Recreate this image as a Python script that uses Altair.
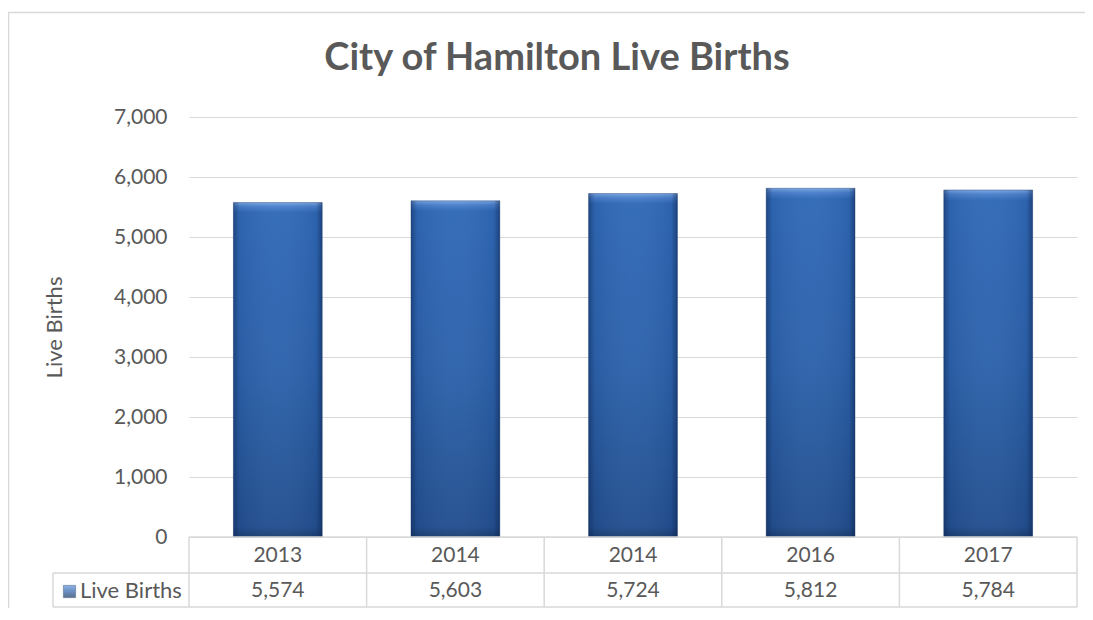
import altair as alt
import pandas as pd

# ---- data ----
years = ["2013", "2014", "2014", "2016", "2017"]
births = [5574, 5603, 5724, 5812, 5784]
title_text = "City of Hamilton Live Births"
series_name = "Live Births"
y_ticks = [0, 1000, 2000, 3000, 4000, 5000, 6000, 7000]

# ---- styling ----
W, H = 888, 420
FONT = "Lato"
GRAY = "#595959"
LINE = "#d9d9d9"
ROW1, ROW2, ROW3 = 420, 456, 490
LEG_LEFT = -136
HALF_BAR = 0.25

df = pd.DataFrame({"i": list(range(len(years))), "year": years, "births": births})
one = pd.DataFrame({"label": [series_name]})
tdf = pd.DataFrame({"t": [title_text]})

xscale = alt.Scale(domain=[-0.5, len(years) - 0.5], nice=False, zero=False)
yenc = alt.Y(
    "births:Q",
    scale=alt.Scale(domain=[0, 7000], nice=False),
    axis=alt.Axis(
        values=y_ticks, format=",.0f", title=series_name, grid=True, gridColor=LINE,
        gridWidth=1.2, domain=False, ticks=False, labelFont=FONT, labelFontSize=21,
        labelColor=GRAY, labelPadding=22, titleFont=FONT, titleFontSize=22,
        titleFontWeight="normal", titleColor=GRAY, titlePadding=47,
    ),
)

def stop(o, c):
    return alt.GradientStop(offset=o, color=c)

bar_v = alt.Gradient(
    gradient="linear", x1=0, y1=0, x2=0, y2=1,
    stops=[stop(0, "#7aa6e2"), stop(0.012, "#4a80cc"), stop(0.03, "#3069b6"),
           stop(0.5, "#2c62ab"), stop(0.97, "#234f8f"), stop(1, "#1b3f73")],
)
bar_h = alt.Gradient(
    gradient="linear", x1=0, y1=0, x2=1, y2=0,
    stops=[stop(0, "rgba(10,30,70,0.45)"), stop(0.07, "rgba(10,30,70,0.08)"),
           stop(0.5, "rgba(255,255,255,0.03)"), stop(0.93, "rgba(10,30,70,0.08)"),
           stop(1, "rgba(10,30,70,0.5)")],
)
icon_grad = alt.Gradient(
    gradient="linear", x1=0, y1=0, x2=0, y2=1,
    stops=[stop(0, "#5d93dc"), stop(0.45, "#2f64ae"), stop(1, "#17335e")],
)

base = alt.Chart(df).transform_calculate(
    lo=f"datum.i - {HALF_BAR}", hi=f"datum.i + {HALF_BAR}", edge="datum.i + 0.5"
)
one_c = alt.Chart(one)

# outer chart frame (top and left edges; the rest lies outside the picture)
frame_top = one_c.mark_rule(color=LINE, strokeWidth=1.5).encode(
    x=alt.value(-181), x2=alt.value(W + 8), y=alt.value(-104.5)
)
frame_left = one_c.mark_rule(color=LINE, strokeWidth=1.5).encode(
    x=alt.value(-180.5), y=alt.value(-105), y2=alt.value(H + 200)
)

title = alt.Chart(tdf).mark_text(
    font=FONT, fontSize=38, fontWeight="bold", color=GRAY, align="center", baseline="alphabetic"
).encode(text="t:N", x=alt.value(368), y=alt.value(-47))

bars = base.mark_bar(color=bar_v, stroke="#1d3f70", strokeWidth=0.6, strokeOpacity=0.7).encode(
    x=alt.X("lo:Q", scale=xscale, axis=None), x2="hi:Q", y=yenc, y2=alt.datum(0)
)
bars_shade = base.mark_bar(color=bar_h).encode(
    x=alt.X("lo:Q", scale=xscale, axis=None), x2="hi:Q", y=yenc, y2=alt.datum(0)
)

# table grid
col_lines = base.mark_rule(color=LINE, strokeWidth=1.5).encode(
    x=alt.X("edge:Q", scale=xscale, axis=None), y=alt.value(ROW1), y2=alt.value(ROW3)
)
left_line = one_c.mark_rule(color=LINE, strokeWidth=1.5).encode(
    x=alt.value(0), y=alt.value(ROW1), y2=alt.value(ROW3)
)
leg_left_line = one_c.mark_rule(color=LINE, strokeWidth=1.5).encode(
    x=alt.value(LEG_LEFT), y=alt.value(ROW2), y2=alt.value(ROW3)
)
h1 = one_c.mark_rule(color=LINE, strokeWidth=1.5).encode(
    x=alt.value(0), x2=alt.value(W), y=alt.value(ROW1)
)
h2 = one_c.mark_rule(color=LINE, strokeWidth=1.5).encode(
    x=alt.value(LEG_LEFT), x2=alt.value(W), y=alt.value(ROW2)
)
h3 = one_c.mark_rule(color=LINE, strokeWidth=1.5).encode(
    x=alt.value(LEG_LEFT), x2=alt.value(W), y=alt.value(ROW3)
)

year_text = base.mark_text(font=FONT, fontSize=21, color=GRAY, baseline="middle").encode(
    x=alt.X("i:Q", scale=xscale, axis=None), y=alt.value((ROW1 + ROW2) / 2 + 1), text="year:N"
)
val_text = base.mark_text(font=FONT, fontSize=21, color=GRAY, baseline="middle").encode(
    x=alt.X("i:Q", scale=xscale, axis=None), y=alt.value((ROW2 + ROW3) / 2 + 1),
    text=alt.Text("births:Q", format=",.0f")
)
icon = one_c.mark_square(size=150, filled=True, color=icon_grad, stroke="#1d3560", strokeWidth=0.6).encode(
    x=alt.value(-119.5), y=alt.value(474.5)
)
leg_text = one_c.mark_text(font=FONT, fontSize=22, color=GRAY, align="left", baseline="middle").encode(
    x=alt.value(-109), y=alt.value((ROW2 + ROW3) / 2 + 1), text="label:N"
)

chart = alt.layer(
    frame_top, frame_left, title, bars, bars_shade, col_lines, left_line, leg_left_line,
    h1, h2, h3, year_text, val_text, icon, leg_text,
).properties(
    width=W, height=H,
    autosize=alt.AutoSizeParams(type="none"),
    padding={"left": 181, "top": 109, "right": 8, "bottom": 71},
    background="white",
).configure_view(stroke=None)

chart.save("out.html", embed_options={"renderer": "svg", "actions": False})
